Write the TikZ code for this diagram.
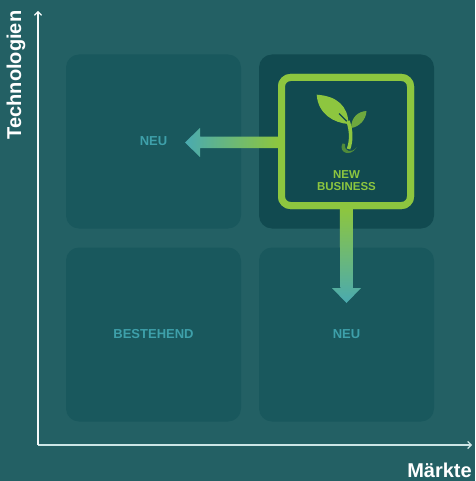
\documentclass[tikz,border=0pt]{standalone}
\usepackage{fontspec}
\setmainfont{Liberation Sans}
\usetikzlibrary{calc,arrows.meta}
\definecolor{bg}{RGB}{35,96,100}
\definecolor{boxc}{RGB}{25,88,93}
\definecolor{boxd}{RGB}{17,74,80}
\definecolor{grn}{RGB}{141,198,63}
\definecolor{grnd}{RGB}{110,168,62}
\definecolor{grndd}{RGB}{80,140,58}
\definecolor{tealt}{RGB}{62,160,170}
\definecolor{tealar}{RGB}{74,170,176}
\definecolor{axisv}{RGB}{245,250,250}
\definecolor{axish}{RGB}{205,230,230}
\begin{document}
\begin{tikzpicture}[x=1pt,y=-1pt,
  quad/.style={fill=boxc, rounded corners=13pt, minimum width=175pt, minimum height=174pt,
    inner sep=0pt, font=\bfseries\fontsize{13}{15}\selectfont, text=tealt},
  axislab/.style={font=\bfseries\fontsize{20}{22}\selectfont, text=white, inner sep=0pt},
  axisline/.style={line width=1.2pt, -{Straight Barb[length=3.5pt,width=7pt,line width=1.2pt]}},
  frame/.style={draw=grn, line width=7pt, rounded corners=9pt, fill=boxd,
    minimum width=129pt, minimum height=128pt, inner sep=0pt},
  nbtext/.style={font=\bfseries\fontsize{11.5}{12}\selectfont, text=grn, align=center, inner sep=0pt}]
\fill[bg] (0,0) rectangle (475,481);
\useasboundingbox (0,0) rectangle (475,481);
% quadrants
\node[quad] (tl) at (153.5,141.5) {NEU};
\node[quad, fill=boxd] (tr) at (346.5,141.5) {};
\node[quad] (bl) at (153.5,334.5) {BESTEHEND};
\node[quad] (br) at (346.5,334.5) {NEU};
% axes
\coordinate (O) at (38,445);
\coordinate (ytop) at (38,11);
\coordinate (xend) at (472,445);
\draw[axisline, axish] (O) -- (xend);
\draw[axisline, axisv] (O) -- (ytop);
\node[axislab, rotate=90] (ylab) at (16,75) {Technologien};
\node[axislab] (xlab) at (439.5,470) {Märkte};
% frame node
\node[frame] (nb) at (346,141.5) {};
\coordinate (tipL) at (185,142.5);
\coordinate (tipD) at (346.5,303);
% left arrow
\shade[left color=tealar, right color=grn]
  ($(nb.west)+(0,-4.75)$) -- (200,136.75) -- (200,128) -- (tipL) -- (200,157)
  -- (200,148.25) -- ($(nb.west)+(0,6.75)$) -- cycle;
% down arrow
\shade[top color=grn, bottom color=tealar]
  ($(nb.south)+(-6.25,0)$) -- (340.25,288) -- (332,288) -- (tipD) -- (361,288)
  -- (352.75,288) -- ($(nb.south)+(6.75,0)$) -- cycle;
% redraw frame on top
\node[frame] at (nb) {};
\node[nbtext] (nbt) at (346.5,181) {NEW\\BUSINESS};
% sprout icon
\fill[grn] (316.7,94.7) .. controls (337,96) and (348,106) .. (348.5,124)
  .. controls (334,123) and (318,114) .. (316.7,94.7) -- cycle;
\draw[boxd, line width=1.3pt] (339,113.5) -- (347,121.5);
\fill[grnd] (351,128) .. controls (351.5,117) and (358,111.5) .. (366.5,111)
  .. controls (366,120) and (359,127) .. (351,128) -- cycle;
\draw[grn, line width=3.6pt] (348,121) .. controls (351.5,131) and (351.5,141) .. (348.5,149);
\fill[grndd] (342.5,143.5) .. controls (338,152) and (350,158) .. (356.5,147.5)
  .. controls (352,153) and (344,152.5) .. (345,144) -- cycle;
\end{tikzpicture}
\end{document}
